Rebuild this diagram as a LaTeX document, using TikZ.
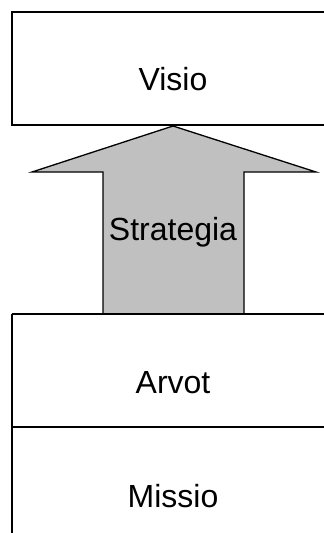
\documentclass[tikz,border=0pt]{standalone}
\usepackage{fontspec}
\setmainfont{Liberation Sans}
\definecolor{arrowgray}{RGB}{192,192,192}
\begin{document}
\begin{tikzpicture}[x=1pt,y=-1pt,
  boxline/.style={draw=black,line width=1.3pt},
  lbl/.style={font=\fontsize{32}{36}\selectfont,inner sep=0pt,anchor=base}]
\useasboundingbox (0,0) rectangle (324,533);
\begin{scope}
\clip (0,0) rectangle (324,533);
% Visio box
\draw[boxline] (12,12) rectangle (340,125);
\node[lbl] (visio) at (173,90) {Visio};
% Arrow
\draw[boxline,fill=arrowgray,line join=miter]
  (173,126) -- (316,172) -- (244,172) -- (244,314) -- (103,314) -- (103,172) -- (32,172) -- cycle;
\node[lbl] (strat) at (173,240) {Strategia};
% Arvot and Missio
\draw[boxline] (12,314) -- (340,314);
\draw[boxline] (12,314) -- (12,545);
\draw[boxline] (12,427) -- (340,427);
\node[lbl] (arvot) at (173,393) {Arvot};
\node[lbl] (missio) at (173,507) {Missio};
\end{scope}
\end{tikzpicture}
\end{document}
